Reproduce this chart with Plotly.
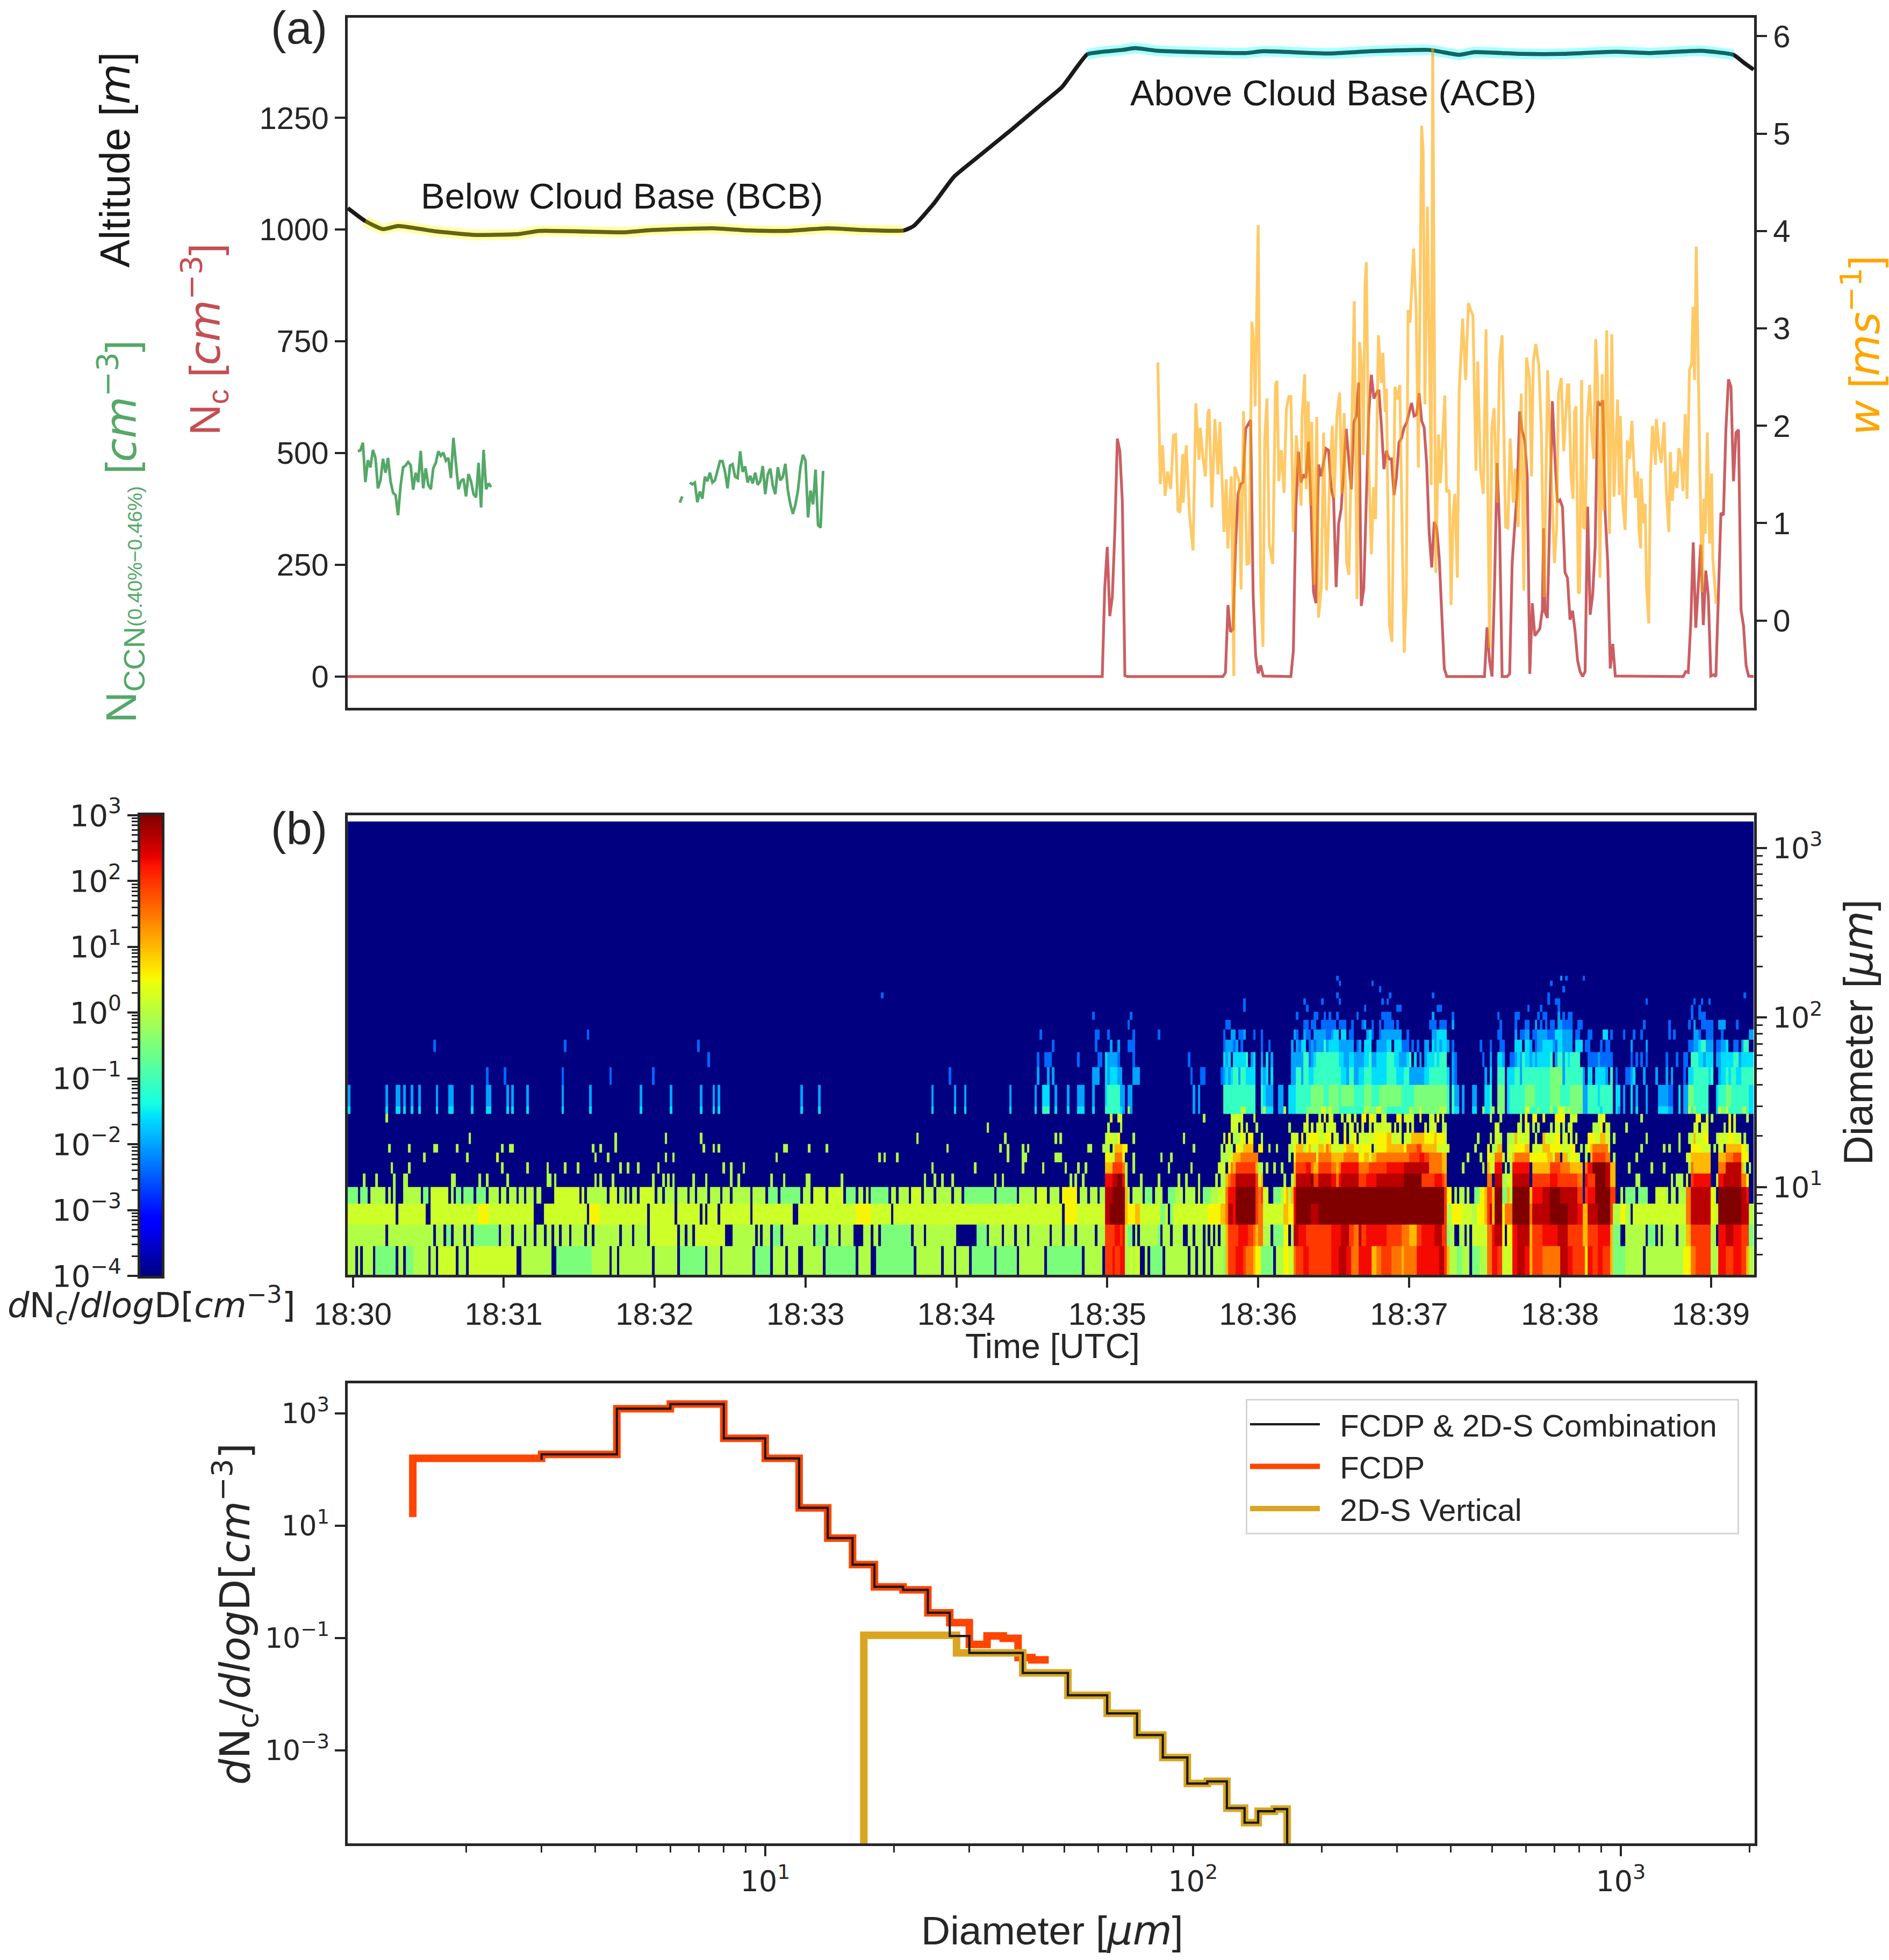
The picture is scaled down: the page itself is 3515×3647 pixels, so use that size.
import re
import numpy as np
import plotly.graph_objects as go

W, H = 3515, 3647
DARK = "#262626"

# ---------- panel (a) data (time in seconds after 18:30:00) ----------
alt_t = [-2, 5, 12, 18, 33, 49, 66, 74, 108, 119, 143, 158, 172, 189, 203, 219, 223, 231, 239, 248, 262, 274, 282, 292, 297, 306, 311, 320, 335, 355, 362, 388, 405, 428, 440, 446, 465, 481, 502, 516, 536, 549, 553, 557]
alt_v = [1048, 1019, 1001, 1008, 996, 988, 990, 997, 994, 999, 1003, 998, 997, 1003, 999, 998, 1008, 1058, 1118, 1160, 1224, 1281, 1319, 1392, 1397, 1402, 1406, 1400, 1397, 1395, 1399, 1394, 1399, 1402, 1391, 1397, 1393, 1393, 1398, 1395, 1400, 1391, 1374, 1358]

nc_t = [-2, 120, 240, 298, 299, 300, 301, 302, 303, 304, 305, 306, 307, 308, 346, 347, 348, 349, 350, 351, 352, 353, 354, 355, 357, 358, 359, 360, 361, 362, 373, 374, 375, 376, 377, 378, 379, 380, 381, 381.5, 382, 383, 384, 385, 387, 388, 389, 390, 391, 392, 393, 395, 397, 398, 399, 400, 401, 402, 403, 404, 405, 406, 407.5, 408, 409, 410, 411, 412, 413, 414, 415, 416, 417, 418, 419, 421, 422, 423, 424, 425, 426, 427, 428, 429, 430, 431, 432, 433, 434, 435, 450, 451, 452, 453, 454, 455, 456, 457, 459, 460, 461, 463, 464, 465, 466, 467, 468, 469, 470, 472, 473, 473.5, 474, 475, 476, 477, 478, 479, 480, 481, 482, 483, 484, 485, 486, 487, 488, 489, 490, 491, 492, 493, 494, 495, 496, 497, 498, 499, 500, 501, 502, 529, 530, 531, 532, 533, 534, 536, 537, 538, 539, 540, 541, 542, 543, 544, 545, 546, 547, 548, 549, 550, 551, 552, 553, 554, 555, 557]
nc_v = [0, 0, 0, 0, 199, 290, 135, 178, 323, 532, 504, 390, 2, 0, 0, 9, 160, 100, 105, 291, 408, 430, 435, 554, 574, 182, 47, 7, 25, 1, 0, 58, 379, 503, 434, 452, 444, 525, 386, 291, 189, 164, 474, 448, 510, 506, 423, 397, 200, 342, 375, 554, 419, 568, 583, 658, 158, 198, 399, 591, 675, 622, 639, 639, 562, 464, 505, 487, 487, 406, 447, 524, 533, 557, 567, 612, 583, 586, 634, 572, 557, 476, 322, 244, 346, 332, 265, 131, 18, 0, 0, 110, 35, 0, 207, 478, 332, 0, 0, 6, 255, 418, 593, 548, 529, 447, 6, 164, 91, 107, 150, 332, 145, 131, 364, 616, 488, 390, 395, 379, 233, 220, 127, 147, 102, 36, 11, 0, 11, 380, 138, 182, 291, 616, 606, 618, 364, 255, 18, 73, 1, 0, 11, 9, 117, 300, 109, 295, 115, 237, 179, 1, 4, 0, 182, 366, 361, 554, 665, 648, 437, 546, 552, 149, 113, 25, 1, 0]

ccn_t1 = list(range(2, 56))
ccn_v1 = [504, 506, 523, 435, 484, 468, 507, 489, 421, 439, 487, 456, 489, 437, 411, 406, 361, 427, 468, 472, 480, 473, 418, 456, 435, 505, 421, 466, 429, 419, 466, 478, 504, 494, 501, 483, 489, 444, 534, 473, 419, 437, 442, 403, 453, 437, 408, 401, 478, 378, 507, 419, 432, 424]
ccn_t2 = [130, 131]
ccn_v2 = [389, 403]
ccn_t3 = list(range(134, 188))
ccn_v3 = [434, 430, 434, 390, 414, 398, 447, 437, 456, 434, 439, 463, 482, 482, 458, 421, 472, 475, 447, 444, 504, 458, 470, 434, 449, 432, 456, 429, 437, 471, 408, 452, 465, 427, 408, 468, 439, 447, 476, 416, 385, 364, 385, 416, 468, 496, 483, 356, 416, 385, 463, 339, 333, 460]

w_t = [320.1, 321.1, 322, 323, 324, 325.2, 326.3, 327.2, 328.1, 328.9, 330, 330.2, 331.4, 332.7, 334.1, 335.2, 336.5, 337, 338, 339, 340, 340.5, 341.6, 342.8, 344, 344.8, 346.4, 347.3, 347.9, 349.3, 350.3, 350.7, 352.4, 353.2, 354.2, 355.5, 356.4, 357.5, 358.3, 358.8, 360, 361, 361.9, 362.6, 363.5, 364.4, 365.8, 366.9, 367.5, 368.2, 369.2, 370.3, 371.2, 372.2, 373, 374, 375.2, 377.1, 377.4, 378.5, 379.1, 379.9, 380.8, 381.3, 382.2, 383.3, 384, 385.1, 386, 387.2, 388.4, 389.5, 390.2, 391.3, 392.4, 393.2, 394.2, 395.2, 396.1, 397.2, 398.2, 399.3, 400.3, 401.2, 401.8, 402.5, 403, 404, 405, 405.9, 406.7, 407.8, 408.9, 409.6, 410.5, 411, 412.2, 413.2, 414.4, 415.3, 416.3, 417.3, 418.1, 418.9, 419.6, 420.4, 421.8, 422.8, 423.7, 425, 425.6, 426.3, 427.3, 428.8, 429.4, 430.6, 431.7, 432.5, 433.1, 434.2, 434.9, 436, 436.7, 437.5, 438.2, 439.2, 439.9, 441.3, 442.5, 443.6, 444.5, 445.4, 446.6, 447.3, 448.4, 449.5, 450.6, 452, 452.9, 453.8, 455, 456, 457, 458.4, 459.3, 460.2, 461.4, 462.3, 463.4, 464.6, 465.6, 466.7, 467.9, 468.7, 469.4, 470.4, 471.6, 472.6, 473.7, 475.1, 477.8, 478.7, 479.4, 480.5, 481.5, 483, 483.5, 484.4, 485.2, 485.8, 486.4, 487.3, 487.8, 488.6, 489.3, 490, 490.9, 491.8, 492.5, 493.4, 494.2, 494.9, 495.9, 496.8, 497.4, 498.6, 499.7, 500.6, 501.5, 502.9, 503.6, 504, 505, 505.9, 506.8, 507.7, 508.6, 510, 510.9, 511.4, 512.1, 512.3, 513.2, 513.9, 514.4, 515.3, 516, 516.8, 518, 518.3, 519.3, 520.3, 521.4, 522.3, 523.3, 523.9, 524.7, 525.5, 526.5, 527.3, 528.2, 528.9, 529.8, 530.5, 531.5, 532.4, 532.9, 533.5, 534.2, 534.9, 535.3, 535.8, 536.5, 537.2, 537.8, 538.6, 539.5, 540.3, 540.8, 542.1]
w_v = [2.65, 1.40, 1.80, 1.28, 1.53, 1.35, 1.90, 1.91, 1.13, 1.11, 1.71, 1.21, 1.80, 1.09, 0.72, 2.23, 1.65, 1.98, 1.68, 1.48, 2.13, 2.17, 1.16, 2.07, 1.50, 2.04, 0.91, 1.45, 0.74, 1.48, -0.57, 1.58, 1.43, 0.32, 2.15, 0.58, 0.59, 3.07, 2.82, 2.20, 4.06, 0.39, -0.27, 1.86, 2.28, 0.78, 0.58, 2.43, 2.46, 1.43, 1.75, 1.31, 2.17, 2.30, 2.30, 0.91, 1.90, 1.18, 2.07, 2.53, 1.35, 2.25, 1.18, 2.04, 0.37, 2.09, 0.03, 0.33, 1.93, 0.31, 1.41, 2.00, 1.26, 2.10, 2.34, 1.30, 2.13, 0.59, 0.47, 2.13, 3.28, 0.22, 2.86, 2.58, 1.70, 3.46, 3.68, 1.56, 0.68, 1.37, 1.04, 2.93, 2.44, 2.75, 2.14, 2.38, -0.04, -0.22, 2.40, 2.27, 2.42, 0.84, -0.33, 0.29, 3.19, 3.06, 3.82, 3.21, 1.57, 5.08, 4.82, 2.22, 4.25, 1.39, 5.88, 0.49, 1.91, 1.41, 1.76, 2.31, 1.32, 1.34, 0.16, 1.08, 1.30, 0.44, 2.33, 3.10, 2.47, 3.26, 3.19, 3.13, 1.54, 2.66, 1.54, 1.30, 2.99, -0.28, 1.96, 2.18, 1.21, 2.66, 2.93, 0.96, 0.95, 1.87, 1.21, 1.56, 0.96, 2.33, 0.31, 2.70, 2.49, 1.48, 2.66, 2.84, 2.62, 1.94, 0.24, 2.57, 0.59, 0.95, 2.33, 2.49, 1.74, 2.42, 2.42, 1.48, 1.25, 2.15, 2.20, 0.29, 0.28, 2.47, 0.96, 0.94, 2.06, 2.42, 1.98, 1.66, 2.89, 2.50, 0.44, 2.53, 1.13, 2.98, 0.89, 2.94, 1.27, 2.27, 1.29, 2.10, 1.21, 0.93, 1.85, 1.66, 2.05, 1.26, 1.53, 0.94, 0.74, 1.46, 1.00, 1.20, 0.36, -0.03, 1.51, 2.00, 1.60, 2.07, 1.80, 1.62, 2.04, 1.33, 0.91, 1.73, 1.23, 1.53, 1.36, 1.77, 1.65, 1.33, 2.12, 1.25, 2.57, 2.65, 3.22, 2.47, 3.84, 2.67, 1.80, 1.31, 0.29, 1.25, 0.89, 1.93, 0.79, 1.51, 0.63, 0.17]

# ---------- panel (b) data: log10(dN/dlogD) classes, run-coded per size bin ----------
level_codes = {".": -4.0, "b": -2.4, "c": -2.0, "d": -1.6, "e": -1.1, "f": -0.5, "g": -0.05, "h": 0.2,
               "i": 0.55, "j": 1.0, "k": 1.5, "l": 1.95, "m": 2.3, "n": 2.65, "o": 3.0}
size_edges = [3, 4.5, 6, 8, 10, 12, 14, 16, 18, 21, 24, 27, 30, 40, 51, 62.4, 74, 85, 97, 108, 118.5, 130, 141, 153, 165, 176, 1430]

row_00 = "g1 .2 g3 .4 g8 .9 f17 .18 g20 .21 f24 g30 .31 g33 .34 h41 .42 g45 .46 h60 h65 .67 g79 .81 f95 g102 .103 g105 .106 g119 .120 g129 .130 f140 .141 g146 .147 g159 .160 f166 .167 g172 .173 g177 .179 g187 .188 f200 .201 g206 .208 f223 .224 g234 .235 g239 .240 g245 .246 f255 .256 f264 .265 g275 .276 f290 .291 g298 .299 l302 m303 l305 m307 g309 h310 g311 h313 .315 g316 .317 f322 .323 g332 .333 g335 .336 g338 .339 g341 .342 g346 f347 j348 l351 m354 l355 k358 j359 i361 f366 .367 g370 i372 h374 k375 l378 m380 l389 m392 n395 m397 k400 m405 j407 k409 l413 k417 j418 k423 m432 n434 l435 j436 g439 f441 g444 .445 f448 g451 k453 m455 l457 h461 m463 n466 m468 j469 l473 k480 n483 m485 l490 i491 m493 l495 m497 l500 j501 f506 g513 .514 g529 i532 k534 l540 g543 m546 l549 m552 l554 j555 g558"
row_01 = "g13 .14 g32 .33 g36 .37 f39 .40 g44 .45 g47 .48 f58 .59 g63 .64 g68 .69 g72 .73 g76 .77 g79 .80 g82 .83 g86 .87 g92 .93 g95 .96 g106 .107 g111 .112 g117 .118 h129 .130 g132 .133 g135 .136 h148 .151 g160 .161 g162 .163 g166 .167 f170 .171 g183 .184 f188 .189 g193 .194 g199 .203 g206 .207 g209 .210 f222 .223 g227 .228 g240 .248 f252 .253 g258 .259 g263 .264 g268 .269 g277 .278 g282 .283 g287 .288 g295 .296 g299 l303 m305 l306 m307 g308 f310 .311 g312 .313 g320 f321 .322 g325 .326 g330 .332 g334 .335 g338 .339 g340 .341 g342 .343 g344 .345 g347 j348 l352 m356 l358 k359 j360 k362 g365 .366 f370 i372 .373 g374 n376 m379 l389 m393 n396 l398 k400 n401 l403 m411 l417 k420 j423 l425 m430 n433 l435 f436 g438 .440 g442 .443 g444 .445 h451 k453 m454 n457 i458 .459 i461 m463 n468 j469 l473 m479 n483 l489 j491 l495 m500 j501 f504 .506 g514 .515 f518 .519 g520 .521 g526 .527 g530 j532 l540 g542 .543 m546 n549 m552 l555 f558"
row_02 = "h17 .18 h29 .31 h50 i54 h72 .76 h93 .94 i98 h117 .118 h128 .129 h138 .139 h140 .141 h145 .146 h158 .159 h175 .177 h200 i206 h214 .215 h282 .283 i288 h299 n301 o307 j308 i311 j313 h321 f323 h324 .325 f326 h340 i345 j347 k348 n350 m351 o359 l360 k362 h370 j372 i374 m375 o381 n384 o434 l435 g437 i441 h445 g447 i450 j451 l452 n453 j454 o457 i458 k461 o468 k469 n476 o483 n487 m489 j491 n495 o500 l501 g504 i506 g508 .509 h530 k532 n540 i541 h543 o552 n555 g558"
row_03 = "f2 .3 f6 .7 g13 .14 g15 .16 g17 .20 g27 .28 f30 .31 h38 .39 g40 .41 f43 .44 f48 .49 f53 .54 g58 .59 g61 .62 g65 .66 g68 .69 g72 .73 g75 .80 h90 .91 h92 .93 g101 .102 h105 .106 g108 .109 g110 .111 g113 .114 h120 .121 g123 .124 g128 .129 g133 .134 g136 .137 g141 .142 g146 .147 g150 .151 g158 .159 g164 .165 f169 .170 f178 .179 g182 .183 h188 .189 h195 .196 f200 .201 g203 .204 g205 .206 f213 .214 g216 .217 g221 .222 h226 .227 g231 .232 g238 .239 g242 .243 f255 .256 f264 .265 g271 .272 h276 .277 g281 .282 i288 .289 g292 .293 g296 .297 g299 n302 o307 j308 g309 .310 g314 .315 f318 .319 g322 .324 f327 g330 .331 g335 .336 h337 .338 f341 g344 h347 k348 m351 o359 l360 k361 l362 h364 .366 f369 g370 i371 j372 g373 j374 m375 o434 l435 i437 .438 g439 .440 g442 .443 g444 .446 f448 i450 j451 l453 j454 o457 f459 j460 g461 o468 j469 m473 n476 o480 n487 l489 .490 l491 m494 o500 l502 .504 g505 .506 f510 .511 f515 .518 h522 g523 .524 g526 .527 g530 k532 n540 i541 h542 .543 o552 n554 m555 .558"
row_04 = ".4 g5 .9 g10 .16 g17 .20 g22 .39 g41 .50 g51 .53 g54 .61 g62 .77 g79 .80 g81 .96 g97 .98 g99 .103 g104 .119 g120 .123 g124 .125 g126 .127 g128 .135 g136 .140 g141 .150 g151 .153 g154 .166 g167 .171 g172 .180 g182 .194 g195 .227 g228 .231 g232 .234 g235 .238 g239 .255 g256 .258 g259 .285 g286 .287 g288 .290 g291 .299 m302 n304 o306 m307 g308 .313 g314 .320 g321 .328 g329 .331 g332 .336 g337 .343 g344 .345 g347 j348 k349 l351 n359 l360 h361 j362 .370 g371 .373 g374 j375 n381 o382 l384 n389 m391 k392 m393 n400 l403 m407 n418 o425 l430 m433 l434 k435 .451 k453 .454 n457 g459 h461 n468 .469 l476 m479 l487 k489 .490 m491 l494 o498 n500 j502 .510 g512 .524 g525 .526 g529 .530 h531 .532 l533 m540 .542 g543 m545 n552 k554 i555 .558"
row_05 = ".15 g16 .22 g23 .59 g60 .69 g70 .77 g78 .84 g85 .89 g90 .106 g107 .109 g110 .113 g114 .121 g122 .147 g148 .150 g151 .155 g156 .230 g231 .247 g248 .266 g267 .274 g275 .283 g284 .288 g289 .291 g292 .299 j302 l306 k307 g308 .310 g311 .324 g325 .333 g334 .344 h347 .348 i349 k350 j351 l359 j360 g362 .363 g364 .366 g367 .369 g370 .374 j375 l379 m381 k382 j384 l389 k391 j392 k393 m400 k404 l411 m418 n428 k433 j435 .441 g442 .449 g450 .451 j452 h454 m457 .458 g459 .460 g461 m468 .469 j476 l480 k484 j489 .490 k491 m493 o498 n500 j502 .507 g508 .516 g517 .521 g522 .531 g532 k533 j540 .543 k546 n552 j553 g554 .555 g556 .558"
row_06 = ".28 g29 .45 g46 .57 h58 .96 g97 .101 g102 .124 g125 .127 g128 .168 g169 .209 g210 .211 g212 .216 g217 .260 g261 .266 g268 .279 g282 .299 i301 h303 k306 i307 .310 g311 .321 g322 .325 g326 .345 g348 h350 j353 k360 .372 g373 .374 i375 k383 h384 k389 j394 k400 i402 j404 h405 j407 k420 l424 m426 l428 k433 j435 .443 g444 .448 g449 .451 i452 h454 k457 h458 .459 h461 j462 k468 i475 j477 h478 k480 .481 j483 g484 i486 h488 .490 g491 .492 j493 l498 k500 .501 g502 .510 g511 .530 h532 j540 .543 j546 k549 l552 i555 .558"
row_07 = ".14 g15 .22 g23 .32 g34 .41 g42 .59 g60 .62 g64 .95 g96 .98 g99 .104 g105 .139 g140 .143 g144 .145 g146 .171 g173 .181 g182 .188 g189 .236 g237 .257 g258 .260 g261 .266 g267 .268 g269 .292 g294 .298 g301 .302 h303 j306 i308 .334 g335 .345 g346 .347 h348 g350 .351 i353 h354 j358 .360 i362 .364 g365 .367 g368 .372 g374 i375 j378 g379 i380 j381 h384 j386 i387 k388 j389 h394 i395 j398 i400 h401 i405 .406 h407 i411 j418 i419 k423 l425 j431 h436 .446 g447 .451 i452 .453 g455 j457 .459 h462 i466 j468 .469 h473 j476 i480 h484 i486 .488 g489 .490 g491 i492 j493 k499 h500 .512 g513 .521 g522 .523 g524 .527 g528 .532 i536 h540 .541 g542 .543 h545 .546 j552 i554 g555 .558"
row_08 = ".46 g47 .104 g105 .124 g125 .138 g139 .224 g225 .259 g260 .279 g280 .281 g282 .299 g300 h303 g304 i305 .310 g311 .330 g331 .346 h347 .348 i349 .350 g353 i354 h355 .356 i358 .361 g362 .373 h376 .377 i378 .379 h380 i384 h387 i389 .390 h392 .394 i395 .396 h398 i399 .400 h406 i411 j413 h417 .418 h421 j426 i430 j431 i434 h435 .447 g448 .452 g453 .454 h456 g457 .459 g462 j463 h468 .470 h471 .473 j474 h478 i480 .481 h483 .484 h485 .486 h487 .491 i494 h496 j498 h500 .501 g502 .514 g515 .527 g528 .531 g533 j534 h537 i539 .542 g543 h547 i549 h552 .553 g554 .558"
row_09 = ".252 g253 .300 g301 .305 g306 .349 h352 .353 h354 .355 h356 .359 g360 .372 g373 .378 h380 .381 h382 .383 h386 .387 h391 .394 h395 .396 h398 .399 h400 .401 h402 .404 h405 .406 h413 .414 h415 .416 h417 .419 h420 .421 h422 .426 h427 .428 h431 .433 g435 .454 h456 .463 h464 g465 .466 h468 .469 g470 .471 g472 .476 g477 .478 h480 .481 g482 .483 h485 .493 g496 i497 .498 h499 g500 .506 g507 .533 h535 .536 h539 .545 g546 .547 i548 .549 h550 .558"
row_10 = ".13 g14 .301 h302 .304 h306 .338 g339 .349 h354 .358 h359 .379 h380 .384 h385 .386 i387 .388 h390 .393 h394 .395 h397 .398 h399 .401 i403 .404 i406 h407 .409 h411 .415 i417 .418 h422 .424 i425 .428 h430 .431 i432 .433 h434 .452 g453 .456 g457 .464 g465 .466 i467 .469 i471 .473 i474 .478 i482 .484 h487 .495 h497 i498 .512 g513 .534 i536 .538 h539 .540 g541 .547 i548 .549 h550 .554 g555 .558"
row_11 = "d-1 .13 d14 .17 d19 .20 d21 .23 d24 .26 d27 .33 d34 .38 d40 .47 d48 .53 d55 .61 d62 .63 d64 .69 d70 .83 d84 .94 d95 .114 d115 .126 d127 .138 d139 .143 d144 .145 d146 .178 d179 .185 d186 .230 d231 .239 d240 .243 d244 .261 d262 .271 d272 .274 e277 .279 d280 .284 d285 .288 d290 .290 d291 .294 d295 .299 e305 d306 c307 .308 g309 c310 .334 c335 .336 c337 .346 e353 g355 e359 .361 e362 g363 d366 .368 c370 g371 .372 d375 e379 f385 h387 f388 h389 f392 e402 g404 f407 h409 f411 e420 h421 f424 h425 f432 g435 e436 .437 e438 d440 .441 c442 .445 d447 .449 g450 d452 f454 .455 g456 f458 .459 d460 e466 h468 e471 f472 e476 g477 e479 h482 f483 g484 f489 c491 e496 d497 e501 .502 d503 c504 .505 c506 .508 d509 .510 d511 .514 c515 .519 d523 c525 .527 d528 .529 c531 h532 e533 g534 e539 .542 d543 h544 f546 g547 e552 f553 g554 e555 d558"
row_12 = "c-1 .13 c14 .17 c19 .20 c21 .23 c24 .26 c27 .33 c34 .38 c40 .47 c48 .53 c55 .61 c62 .63 c64 .69 c70 .83 c84 .94 c95 .114 c115 .126 c127 .138 c139 .143 c144 .145 c146 .178 c179 .185 c186 .230 c231 .239 c240 .243 c244 .261 c262 .271 c272 .274 d277 .279 c280 .284 c285 .288 c290 .290 c291 .294 c295 .299 d300 e305 c307 .308 c310 .334 c335 .336 c337 .346 e359 .361 e362 d363 c366 .368 c370 .372 d375 e381 f386 e388 f392 e393 f398 e402 f405 e408 f417 e422 f435 e436 .437 e438 c440 .441 c442 .445 c447 .450 d452 e453 .455 f458 .459 d460 e466 f470 e476 f480 e484 f489 c491 e495 d496 e501 .502 d504 .505 c506 .508 d509 .510 c511 .514 c515 .519 c523 b525 .527 d528 .529 c531 f533 e539 .542 d543 e546 f548 e555 d558"
row_13 = ".53 b54 .60 b61 .83 b84 .102 b103 .119 b120 .237 b238 .272 c273 .276 c277 .278 c279 .294 c297 .299 d300 c301 d304 c306 .310 c313 .333 b334 .337 b339 .345 b346 c347 d348 c349 d350 e352 c353 e355 d359 .361 d362 c363 d364 .365 d366 .373 c375 e377 c378 e380 d382 e393 d395 c396 e398 c400 d402 e405 d411 e415 d418 e420 c426 d428 e435 d436 .437 c438 b439 .450 c451 .452 d453 .455 e458 .459 d462 e464 c465 e476 f481 c482 e489 c490 .491 d493 .494 d498 c499 .500 e501 .502 b503 .506 b508 c509 d510 .513 c514 .518 c519 .522 c523 .524 c525 .529 b530 .531 d533 e539 d540 e541 .543 c544 d546 e547 d548 e550 d552 e558"
row_14 = ".141 b142 .272 b273 .275 b278 .288 b289 .296 b298 .299 d300 c304 b305 .310 b311 .332 b333 .346 d347 c348 d349 .350 d355 e356 .357 c358 d359 .361 c362 .363 d364 .365 c366 .373 c378 e380 b381 c382 d383 e392 d394 c396 d398 c402 d404 e405 c407 d411 e414 d416 c419 d420 e421 .422 d423 .424 c425 .426 c427 d430 e431 d432 e435 .437 c438 b439 .449 b450 .452 c453 .455 d457 c458 .460 b462 c463 d464 c465 e466 d468 c469 d470 c471 d476 e477 .478 c479 e481 c482 e483 d484 e488 .491 b495 c496 b501 .508 b509 .510 b511 .512 b513 .514 b515 .522 b523 .526 b527 .529 b531 .532 e535 d537 c538 d541 .542 c544 d549 e551 c552 d558"
row_15 = ".32 b33 .84 b85 .137 b138 .278 b279 .295 b296 .301 c302 .304 c305 .308 b311 .346 b347 c350 b351 c352 .353 b354 .361 b362 .364 b365 .373 c374 .375 c376 b377 d379 .380 b381 c382 b383 c386 e387 c388 d392 c398 .399 b400 c401 .402 d405 .407 c411 d413 .414 d417 b420 .421 b422 .423 b424 .426 c428 .429 d430 c431 d432 c433 d435 c436 .437 b438 .448 b449 .452 b453 .456 b458 .462 d465 .466 d468 c469 .470 b471 c473 d477 c478 b479 d481 c485 .486 d489 .490 b492 .496 b497 .498 b500 .508 c509 .514 c515 .531 b533 c535 d536 e538 c541 .542 b544 c546 d547 .549 b551 .552 c553 e555 .558"
row_16 = ".93 b94 .273 b274 .295 b297 .300 b301 .310 b311 .320 b321 .346 b347 .349 c351 .352 b354 c355 .358 b359 .361 b362 .374 c375 b376 .378 c379 b381 .382 c387 b389 c390 d392 .393 d395 .396 b398 .403 c404 d405 b406 .408 b409 c417 .419 b420 .429 c431 d435 .455 b457 .462 c463 .464 b466 c468 .469 b471 c475 b478 d481 c485 .486 b488 .491 b493 .497 d499 .500 b501 .505 b506 .509 b510 .512 b513 .523 b524 .525 b526 .533 c535 b536 .538 b541 .544 b545 .555 c558"
row_17 = ".308 b309 .347 b349 .378 b380 .381 b383 .385 b391 .392 b395 .397 b398 .401 b402 c403 .405 b406 .408 b409 .410 b414 .415 b416 .428 b431 .432 b435 .437 c438 .456 b457 .462 b463 .466 b468 .470 c471 .472 b473 .474 b475 .476 b478 .479 c481 b485 .487 b489 .513 b514 .523 b524 .531 b532 .533 c534 .536 b541 .543 c546 .550 b551 .558"
row_18 = ".294 b295 .309 b310 .375 b376 .382 b384 .386 b387 .388 b389 .391 b392 .399 b400 .409 b413 .429 c430 .437 b438 .455 b456 .462 b464 .471 b472 .473 b475 .479 c480 .481 b482 .483 b485 .532 b533 .535 b538 .558"
row_19 = ".354 b355 .379 b380 .402 b403 .415 b417 .431 b433 .467 b468 .472 b473 .479 b480 .532 b533 .535 b536 .558"
row_20 = ".354 b355 .378 b379 .385 b386 .392 b393 .409 b410 .411 b412 .475 b476 .478 b480 .514 b515 .533 b534 .536 b537 .539 b540 .558"
row_21 = ".210 b211 .391 b392 .412 b413 .429 b430 .475 b476 .553 b554 .558"
row_22 = ".408 b409 .481 b482 .558"
row_23 = ".392 b393 .405 b406 .476 b477 .558"
row_24 = ".391 b392 .480 c481 .482 b483 .489 b490 .558"
row_25 = ".558"
size_rows = [row_00, row_01, row_02, row_03, row_04, row_05, row_06, row_07, row_08, row_09, row_10, row_11, row_12,
             row_13, row_14, row_15, row_16, row_17, row_18, row_19, row_20, row_21, row_22, row_23, row_24, row_25]

# ---------- panel (c) data ----------
fcdp_edges = [1.5, 1.5, 3, 4.5, 6, 8, 10, 12, 14, 16, 18, 21, 24, 27, 30, 33, 36, 39, 42, 46]
fcdp_vals = [14.3, 158, 186, 1209, 1463, 359, 158, 20.8, 6.03, 2.03, 0.817, 0.72, 0.282, 0.188, 0.077, 0.109, 0.099, 0.045, 0.041, 0.041]
tds_edges = [17, 17, 28, 40, 51, 63, 74, 85, 97, 108, 120, 132, 142, 155, 166, 166]
tds_vals = [1e-5, 0.112, 0.0545, 0.024, 0.0096, 0.00457, 0.00188, 0.00075, 0.000258, 0.000282, 0.000094, 0.0000518, 0.0000828, 0.0000904, 0.0000904, 1e-5]
combo_edges = [3, 3, 4.5, 6, 8, 10, 12, 14, 16, 18, 21, 24, 27, 30, 40, 51, 63, 74, 85, 97, 108, 120, 132, 142, 155, 166, 166]
combo_vals = [148, 186, 1209, 1463, 359, 158, 20.8, 6.03, 2.03, 0.817, 0.72, 0.282, 0.109, 0.0545, 0.024, 0.0096, 0.00457, 0.00188, 0.00075, 0.000258, 0.000282, 0.000094, 0.0000518, 0.0000828, 0.0000904, 0.0000904, 1e-5]

time_ticks = [0, 60, 120, 180, 240, 300, 360, 420, 480, 540]
time_labels = ["18:30", "18:31", "18:32", "18:33", "18:34", "18:35", "18:36", "18:37", "18:38", "18:39"]

# ---------- helpers ----------
def decode_row(text, t0=-2, t1=557):
    out = np.full(t1 - t0, -4.0)
    pos = t0
    for code, end in re.findall(r"([.a-o])(-?\d+)", text):
        end = min(int(end), t1)
        if end > pos:
            out[pos - t0:end - t0] = level_codes[code]
            pos = end
    return out

z = np.array([decode_row(r) for r in size_rows])
t_edges = np.arange(-2, 558)

def dom_x(a, b): return [a / W, b / W]
def dom_y(top, bottom): return [1 - bottom / H, 1 - top / H]
def px(x): return x / W
def py(y): return 1 - y / H
def minors(lo, hi):
    return [m * 10.0 ** e for e in range(lo, hi) for m in range(2, 10)]

jet = [[0, (0, 0, .5)], [.11, (0, 0, 1)], [.125, (0, 0, 1)], [.34, (0, .86, 1)], [.35, (0, .9, .968)], [.375, (.081, 1, .887)],
       [.64, (.935, 1, .032)], [.65, (.968, .963, 0)], [.66, (1, .926, 0)], [.89, (1, .074, 0)], [.91, (.909, 0, 0)], [1, (.5, 0, 0)]]
jet = [[p, "rgb(%d,%d,%d)" % tuple(round(c * 255) for c in col)] for p, col in jet]

fig = go.Figure()

# panel (a)
fig.add_trace(go.Scatter(x=alt_t, y=alt_v, mode="lines", line=dict(color="#1a1a1a", width=7.5, shape="spline", smoothing=0.5), showlegend=False))
i_bcb = [i for i, t in enumerate(alt_t) if 5 <= t <= 219]
i_acb = [i for i, t in enumerate(alt_t) if 292 <= t <= 549]
fig.add_trace(go.Scatter(x=[alt_t[i] for i in i_bcb], y=[alt_v[i] for i in i_bcb], mode="lines",
                         line=dict(color="rgba(255,255,0,0.33)", width=20, shape="spline", smoothing=0.5), showlegend=False))
fig.add_trace(go.Scatter(x=[alt_t[i] for i in i_acb], y=[alt_v[i] for i in i_acb], mode="lines",
                         line=dict(color="rgba(0,255,255,0.33)", width=20, shape="spline", smoothing=0.5), showlegend=False))
fig.add_trace(go.Scatter(x=ccn_t1 + [None] + ccn_t2 + [None] + ccn_t3, y=ccn_v1 + [None] + ccn_v2 + [None] + ccn_v3,
                         mode="lines", line=dict(color="#55A868", width=5), showlegend=False))
fig.add_trace(go.Scatter(x=nc_t, y=nc_v, mode="lines", line=dict(color="rgba(196,78,82,0.9)", width=5.2), showlegend=False))
fig.add_trace(go.Scatter(x=w_t, y=w_v, mode="lines", yaxis="y2", line=dict(color="rgba(255,165,0,0.6)", width=5.2), showlegend=False))

# panel (b)
fig.add_trace(go.Heatmap(x=t_edges, y=size_edges, z=z, xaxis="x2", yaxis="y3", colorscale=jet, zmin=-4, zmax=3,
                         showscale=False, zsmooth=False, hoverinfo="skip"))

# colour bar as a small axis
cb_levels = np.linspace(-4, 3, 281)
fig.add_trace(go.Heatmap(x=[0, 1], y=10.0 ** cb_levels, z=((cb_levels[:-1] + cb_levels[1:]) / 2)[:, None], xaxis="x4", yaxis="y5",
                         colorscale=jet, zmin=-4, zmax=3, showscale=False, hoverinfo="skip"))

# panel (c)
fig.add_trace(go.Scatter(x=fcdp_edges, y=fcdp_vals, mode="lines", xaxis="x3", yaxis="y4", name="\u00a0\u00a0FCDP", legendrank=2,
                         line=dict(color="#FF4500", width=14, shape="hv")))
fig.add_trace(go.Scatter(x=tds_edges, y=tds_vals, mode="lines", xaxis="x3", yaxis="y4", name="\u00a0\u00a02D-S Vertical", legendrank=3,
                         line=dict(color="#DAA520", width=14, shape="hv")))
fig.add_trace(go.Scatter(x=combo_edges, y=combo_vals, mode="lines", xaxis="x3", yaxis="y4", name="\u00a0\u00a0FCDP & 2D-S Combination\u00a0\u00a0", legendrank=1,
                         line=dict(color="#1a1a1a", width=4.2, shape="hv")))

base = dict(showgrid=False, zeroline=False, showline=True, linecolor=DARK, linewidth=4.5, mirror=True, automargin=False,
            tickcolor=DARK, tickwidth=4, ticklen=19, ticks="outside",
            tickfont=dict(family="Liberation Sans", size=58, color=DARK))
logfont = dict(family="DejaVu Sans", size=54, color=DARK)
cbfont = dict(family="DejaVu Sans", size=56, color=DARK)
cfont = dict(family="DejaVu Sans", size=52, color=DARK)

fig.update_layout(
    width=W, height=H, autosize=False, margin=dict(l=0, r=0, t=0, b=0),
    paper_bgcolor="white", plot_bgcolor="white",
    xaxis=dict(base, domain=dom_x(647, 3264), range=[-2.03, 557.2], anchor="y", ticks="", showticklabels=False),
    yaxis=dict(base, domain=dom_y(33, 1317), range=[-70, 1474], anchor="x", tickvals=[0, 250, 500, 750, 1000, 1250]),
    yaxis2=dict(base, overlaying="y", side="right", anchor="x", range=[-0.896, 6.19], tickvals=[0, 1, 2, 3, 4, 5, 6], mirror=False),
    xaxis2=dict(base, domain=dom_x(647, 3264), range=[-2.03, 557.2], anchor="y3", tickvals=time_ticks, ticktext=time_labels),
    yaxis3=dict(base, domain=dom_y(1517, 2372), type="log", range=[0.4837, 3.192], side="right", anchor="x2",
                tickvals=[10, 100, 1000], ticktext=["10<sup>1</sup>", "10<sup>2</sup>", "10<sup>3</sup>"], tickfont=logfont,
                minor=dict(tickvals=minors(0, 3), ticks="outside", ticklen=11, tickwidth=3, tickcolor=DARK)),
    xaxis3=dict(base, domain=dom_x(647, 3265), type="log", range=[0.0239, 3.313], anchor="y4",
                tickvals=[10, 100, 1000], ticktext=["10<sup>1</sup>", "10<sup>2</sup>", "10<sup>3</sup>"], tickfont=logfont,
                minor=dict(tickvals=minors(0, 4), ticks="outside", ticklen=12, tickwidth=2.5, tickcolor=DARK)),
    yaxis4=dict(base, domain=dom_y(2574, 3430), type="log", range=[-4.654, 3.534], anchor="x3",
                tickvals=[1000, 10, 0.1, 0.001], ticktext=["10<sup>3</sup>", "10<sup>1</sup>", "10<sup>\u22121</sup>", "10<sup>\u22123</sup>"], tickfont=cfont),
    xaxis4=dict(base, domain=dom_x(261, 301), range=[0, 1], anchor="y5", ticks="", showticklabels=False),
    yaxis5=dict(base, domain=dom_y(1517, 2374), type="log", range=[-4, 3], anchor="x4",
                tickvals=[10.0 ** e for e in range(-4, 4)],
                ticktext=["10<sup>\u22124</sup>", "10<sup>\u22123</sup>", "10<sup>\u22122</sup>", "10<sup>\u22121</sup>",
                          "10<sup>0</sup>", "10<sup>1</sup>", "10<sup>2</sup>", "10<sup>3</sup>"],
                tickfont=cbfont,
                minor=dict(tickvals=minors(-4, 3), ticks="outside", ticklen=11, tickwidth=3, tickcolor=DARK)),
    legend=dict(x=px(3236), y=py(2603), xanchor="right", yanchor="top", bgcolor="white", bordercolor="#d5d5d5", borderwidth=3,
                font=dict(family="Liberation Sans", size=58, color=DARK), itemwidth=130, traceorder="normal"),
)

def it(s):
    return '<span style="font-family:DejaVu Sans;font-style:italic">%s</span>' % s
def dj(s):
    return '<span style="font-family:DejaVu Sans">%s</span>' % s

cm3 = it("cm") + dj("<sup>\u22123</sup>")
dNdlog = it("d") + dj("N<sub>c</sub>/") + it("dlog") + dj("D[") + cm3 + dj("]")
labels = [
    ("(a)", 556, 51, 86, DARK, 0),
    ("(b)", 556, 1541, 86, DARK, 0),
    ("Below Cloud Base (BCB)", 1157, 364, 67, "#1a1a1a", 0),
    ("Above Cloud Base (ACB)", 2481, 173, 67, "#1a1a1a", 0),
    ("Altitude [" + it("m") + "]", 214, 298, 78, "#1a1a1a", -90),
    ("N<sub>c</sub> [" + cm3 + "]", 380, 632, 80, "#C44E52", -90),
    ("N<sub>CCN</sub>" + '<span style="font-size:54px"><sub>(0.40%\u22120.46%)</sub></span>' + " [" + cm3 + "]", 224, 989, 80, "#55A868", -90),
    (it("w") + " [" + it("ms") + dj("<sup>\u22121</sup>") + "]", 3464, 643, 80, "#FFA500", -90),
    ("Time [UTC]", 1958, 2505, 64, DARK, 0),
    ("Diameter [" + it("\u03bcm") + "]", 3457, 1921, 76, DARK, -90),
    (dNdlog, 282, 2428, 64, DARK, 0),
    (dNdlog, 438, 3003, 76, DARK, -90),
    ("Diameter [" + it("\u03bcm") + "]", 1958, 3592, 75, DARK, 0),
]
for text, x, y, size, color, angle in labels:
    fig.add_annotation(text=text, x=px(x), y=py(y), xref="paper", yref="paper", xanchor="center", yanchor="middle",
                       showarrow=False, textangle=angle, font=dict(family="Liberation Sans", size=size, color=color))

fig.write_html("out.html", post_script="document.body.style.margin='0';", config={"displayModeBar": False})
